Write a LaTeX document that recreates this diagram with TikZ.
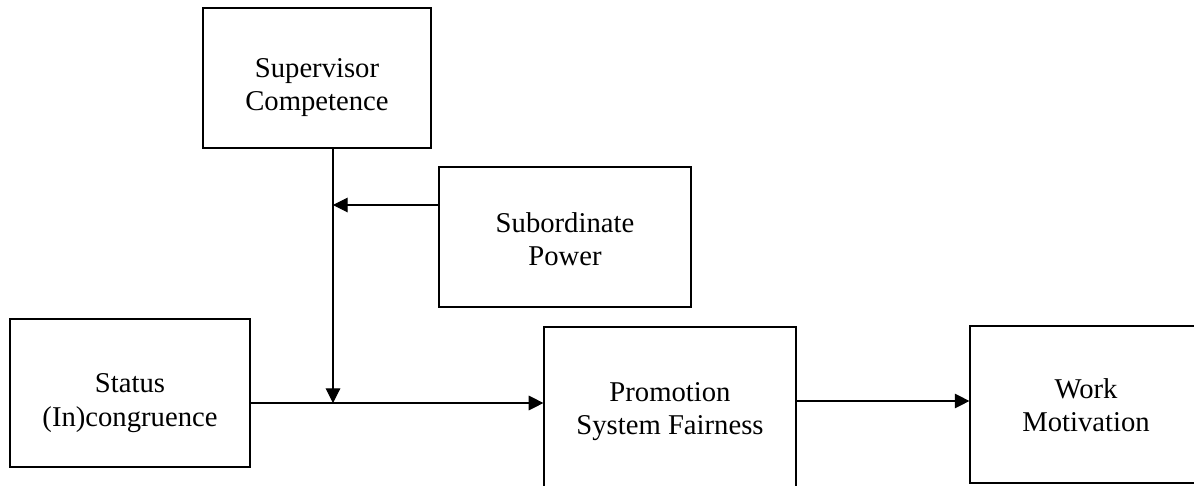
\documentclass[tikz,border=0pt]{standalone}
\usepackage{fontspec}
\setmainfont{Liberation Serif}
\usetikzlibrary{arrows.meta}
\begin{document}
\begin{tikzpicture}[x=0.75pt,y=-0.75pt,
  box/.style={draw=black,line width=0.9pt,inner sep=0pt},
  txt/.style={inner sep=0pt,align=center,font=\fontsize{21.5}{25}\selectfont},
  conn/.style={line width=0.8pt,-{Triangle[length=11pt,width=11pt]}}]
\clip (0,0) rectangle (1194,485);
\node[box,minimum width=171pt,minimum height=105pt] (sup) at (317,78) {};
\node[box,minimum width=189pt,minimum height=105pt] (sub) at (565,237) {};
\node[box,minimum width=180pt,minimum height=111pt] (stat) at (130,393) {};
\node[box,minimum width=189pt,minimum height=120pt] (prom) at (670,407) {};
\node[box,minimum width=174pt,minimum height=117.75pt] (work) at (1086,404.5) {};
\node[txt,yshift=-7pt] (supt) at (sup.center) {Supervisor\\Competence};
\node[txt,yshift=-1.5pt] (subt) at (sub.center) {Subordinate\\Power};
\node[txt,yshift=-7.5pt] (statt) at (stat.center) {Status\\(In)congruence};
\node[txt,yshift=-3.5pt] (promt) at (prom.center) {Promotion\\System Fairness};
\node[txt,yshift=-0.75pt] (workt) at (work.center) {Work\\Motivation};
\coordinate (j) at (333,403);
\coordinate (m) at (333,205);
\coordinate (r) at (800,401);
\draw[conn] (sup.south -| j) -- (j);
\draw[conn] (sub.west |- m) -- (m);
\draw[conn] (j -| stat.east) -- (j -| prom.west);
\draw[conn] (r -| prom.east) -- (r -| work.west);
\end{tikzpicture}
\end{document}
